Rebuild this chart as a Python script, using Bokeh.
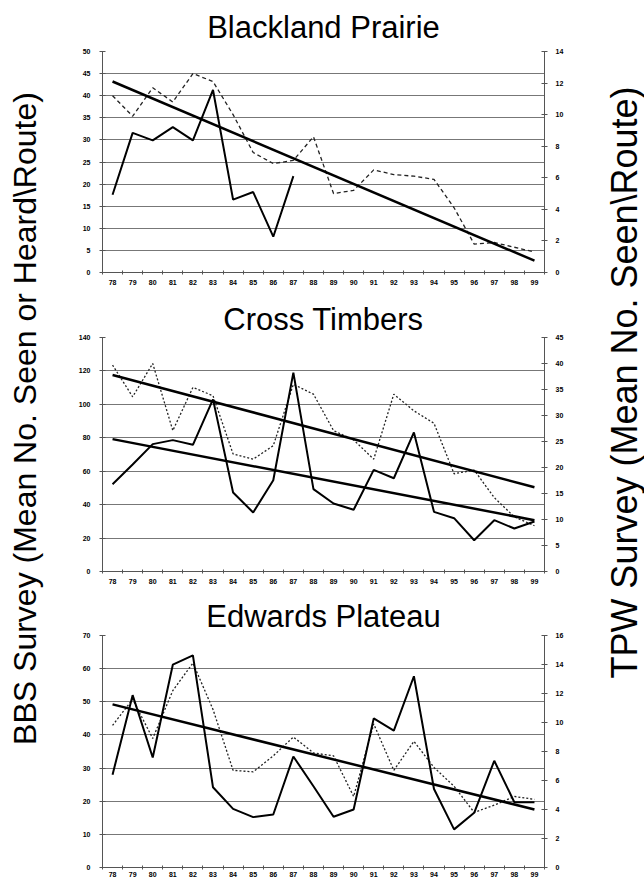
import math
from bokeh.plotting import figure
from bokeh.models import Range1d, LinearAxis, FixedTicker, Label
from bokeh.layouts import row, column
from bokeh.embed import file_html
from bokeh.resources import INLINE

nan = float("nan")

years = [78, 79, 80, 81, 82, 83, 84, 85, 86, 87, 88, 89, 90, 91, 92, 93, 94, 95, 96, 97, 98, 99]
year_bounds = [77.5, 78.5, 79.5, 80.5, 81.5, 82.5, 83.5, 84.5, 85.5, 86.5, 87.5, 88.5,
               89.5, 90.5, 91.5, 92.5, 93.5, 94.5, 95.5, 96.5, 97.5, 98.5, 99.5]
trend_years = [78, 99]

# Blackland Prairie
bp_title = "Blackland Prairie"
bp_bbs = [17.6, 31.6, 29.9, 32.9, 29.9, 41.3, 16.5, 18.2, 8.1, 21.8,
          nan, nan, nan, nan, nan, nan, nan, nan, nan, nan, nan, nan]
bp_tpw = [11.2, 9.9, 11.7, 10.8, 12.6, 12.1, 10.0, 7.6, 6.9, 7.1, 8.6,
          5.0, 5.2, 6.5, 6.2, 6.1, 5.9, 4.1, 1.8, 1.9, 1.6, 1.3]
bp_trend_tpw = [12.1, 0.75]
bp_left_ticks = [0, 5, 10, 15, 20, 25, 30, 35, 40, 45, 50]
bp_right_ticks = [0, 2, 4, 6, 8, 10, 12, 14]

# Cross Timbers
ct_title = "Cross Timbers"
ct_bbs = [52.2, 64.0, 76.2, 78.6, 75.8, 103.0, 47.3, 35.3, 54.6, 119.0, 49.3,
          40.7, 36.9, 60.8, 55.8, 83.2, 35.7, 31.9, 18.7, 30.7, 25.7, 29.9]
ct_tpw = [39.7, 33.6, 40.0, 27.1, 35.4, 33.8, 22.6, 21.6, 24.2, 36.0, 34.1,
          27.1, 25.3, 21.6, 34.1, 30.9, 28.5, 18.8, 19.5, 14.2, 10.5, 8.8]
ct_trend_bbs = [79.2, 30.7]
ct_trend_tpw = [37.8, 16.2]
ct_left_ticks = [0, 20, 40, 60, 80, 100, 120, 140]
ct_right_ticks = [0, 5, 10, 15, 20, 25, 30, 35, 40, 45]

# Edwards Plateau
ep_title = "Edwards Plateau"
ep_bbs = [28.0, 52.0, 33.2, 61.2, 64.0, 24.2, 17.7, 15.2, 16.0, 33.5, 24.5,
          15.3, 17.5, 45.0, 41.3, 57.7, 23.7, 11.5, 16.5, 32.2, 19.7, 19.7]
ep_tpw = [9.8, 11.6, 8.9, 12.2, 14.1, 10.9, 6.7, 6.6, 7.7, 9.0, 7.9,
          7.7, 4.9, 9.9, 6.7, 8.7, 6.9, 5.6, 3.8, 4.3, 4.9, 4.7]
ep_trend_tpw = [11.25, 4.0]
ep_left_ticks = [0, 10, 20, 30, 40, 50, 60, 70]
ep_right_ticks = [0, 2, 4, 6, 8, 10, 12, 14, 16]

left_label = "BBS Survey (Mean No. Seen or Heard\\Route)"
right_label = "TPW Survey (Mean No. Seen\\Route)"

FONT = "Liberation Sans"
TICK_SIZE = "7px"
GRID = "#777777"
AXIS = "#555555"


def style_axis(ax, ticks, standoff):
    ax.ticker = FixedTicker(ticks=ticks)
    ax.major_label_text_font = FONT
    ax.major_label_text_font_size = TICK_SIZE
    ax.major_label_text_font_style = "bold"
    ax.major_label_text_color = "black"
    ax.axis_line_color = AXIS
    ax.major_tick_line_color = AXIS
    ax.major_tick_in = 3
    ax.major_tick_out = 3
    ax.minor_tick_line_color = None
    ax.major_label_standoff = standoff


def panel(title, height, top, bottom, title_standoff, x_standoff,
          bbs, tpw, left_ticks, right_ticks, trend_bbs, trend_tpw, dash):
    p = figure(width=538, height=height, x_range=Range1d(77.5, 99.5),
               y_range=Range1d(0, left_ticks[-1]),
               output_backend="svg", toolbar_location=None,
               min_border_left=44, min_border_right=52,
               min_border_top=top, min_border_bottom=bottom,
               title=title)
    p.title.align = "center"
    p.title.text_font = FONT
    p.title.text_font_size = "31px"
    p.title.text_font_style = "normal"
    p.title.text_color = "black"
    p.title.standoff = title_standoff
    p.outline_line_color = None
    p.background_fill_color = "white"
    p.border_fill_color = "white"
    p.xgrid.visible = False
    p.ygrid.ticker = FixedTicker(ticks=left_ticks)
    p.ygrid.grid_line_color = GRID
    p.ygrid.grid_line_width = 1

    p.extra_y_ranges = {"tpw": Range1d(0, right_ticks[-1])}
    rax = LinearAxis(y_range_name="tpw")
    p.add_layout(rax, "right")

    style_axis(p.yaxis[0], left_ticks, 9)
    style_axis(rax, right_ticks, 8)

    xa = p.xaxis[0]
    xa.ticker = FixedTicker(ticks=years, minor_ticks=year_bounds)
    xa.major_tick_line_color = None
    xa.major_tick_out = 0
    xa.major_tick_in = 0
    xa.minor_tick_line_color = AXIS
    xa.minor_tick_in = 2
    xa.minor_tick_out = 2
    xa.axis_line_color = AXIS
    xa.major_label_text_font = FONT
    xa.major_label_text_font_size = TICK_SIZE
    xa.major_label_text_font_style = "bold"
    xa.major_label_text_color = "black"
    xa.major_label_standoff = x_standoff

    p.line(years, tpw, y_range_name="tpw", line_color="#222222",
           line_width=1.3, line_dash=dash)
    p.line(years, bbs, line_color="black", line_width=2)
    if trend_bbs is not None:
        p.line(trend_years, trend_bbs, line_color="black", line_width=2.5)
    if trend_tpw is not None:
        p.line(trend_years, trend_tpw, y_range_name="tpw",
               line_color="black", line_width=2.5)
    return p


p1 = panel(bp_title, 292, 51, 20, 13, 5, bp_bbs, bp_tpw,
           bp_left_ticks, bp_right_ticks, None, bp_trend_tpw, "4 3")
p2 = panel(ct_title, 298, 45, 19, 2, 5, ct_bbs, ct_tpw,
           ct_left_ticks, ct_right_ticks, ct_trend_bbs, ct_trend_tpw, "2 2")
p3 = panel(ep_title, 289, 45, 11, 4, 2, ep_bbs, ep_tpw,
           ep_left_ticks, ep_right_ticks, None, ep_trend_tpw, "2 2")

TOTAL_H = 879


def side(width, text, cx, cy, size):
    f = figure(width=width, height=TOTAL_H, x_range=Range1d(0, width),
               y_range=Range1d(0, TOTAL_H), output_backend="svg",
               toolbar_location=None, min_border=0)
    f.axis.visible = False
    f.grid.visible = False
    f.outline_line_color = None
    f.add_layout(Label(x=cx, y=TOTAL_H - cy, text=text, angle=math.pi / 2,
                       text_align="center", text_baseline="middle",
                       text_font=FONT, text_font_size=size,
                       text_color="black"))
    return f


lf = side(58, left_label, 24, 418, "32px")
rf = side(48, right_label, 28, 382, "36px")

layout = row(lf, column(p1, p2, p3, spacing=0), rf, spacing=0)

with open("out.html", "w") as fh:
    fh.write(file_html(layout, INLINE))
